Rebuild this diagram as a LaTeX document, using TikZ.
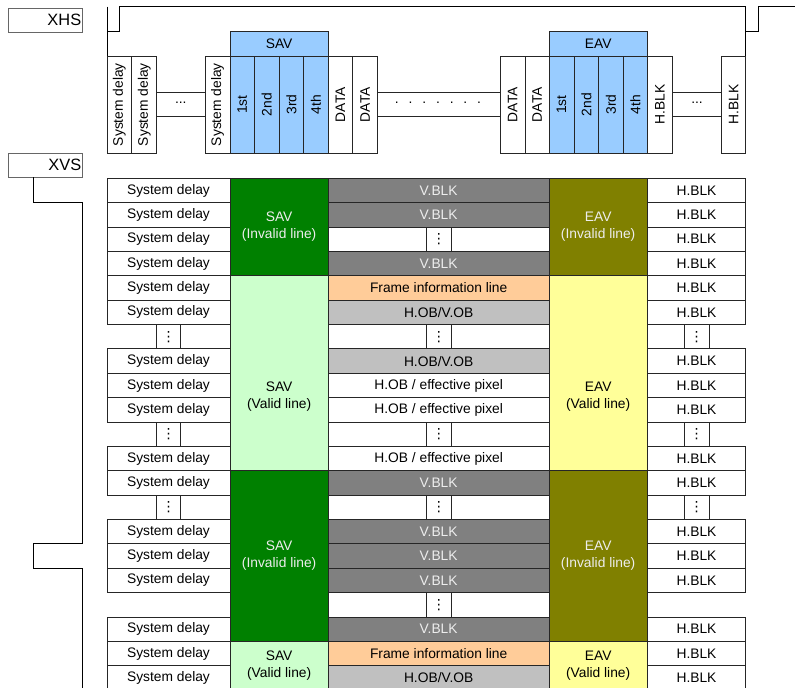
\documentclass[tikz,border=0pt]{standalone}
\usepackage{graphicx}
\usepackage{fontspec}
\setmainfont{Liberation Sans}
\newfontfamily\djv{DejaVu Sans}
\definecolor{savinv}{HTML}{008000}
\definecolor{savval}{HTML}{CCFFCC}
\definecolor{eavinv}{HTML}{808000}
\definecolor{eavval}{HTML}{FFFF99}
\definecolor{vblk}{HTML}{808080}
\definecolor{frameinfo}{HTML}{FFCC99}
\definecolor{hob}{HTML}{C0C0C0}
\definecolor{hdrblue}{HTML}{99CCFF}
\newcommand\cellat[7]{%
  \node[cellbase,#6,minimum width={((#4)-(#2))*0.75pt},minimum height={((#5)-(#3))*0.75pt}] (#1) at ({((#2)+(#4))/2},{((#3)+(#5))/2}) {#7};}
\newcommand\rowcell[7]{\cellat{#1}{#2}{178.3+24.37*(#3)}{#4}{178.3+24.37*(#5)}{#6}{#7}}
\newcommand\hobtxt{H.OB/V.OB}
\newcommand\efftxt{H.OB / effective pixel}
\newcommand\fintxt{Frame information line}
\newcommand\vdts{{\djv\fontsize{10.5}{10.5}\selectfont ⋮}}
\newcommand\spdots{.\hspace{7.4pt}.\hspace{7.4pt}.\hspace{7.4pt}.\hspace{7.4pt}.\hspace{7.4pt}.\hspace{7.4pt}.}
\newcommand\vtxt[1]{\rotatebox{90}{#1}}
\tikzset{
  cellbase/.style={draw=black!85, line width=0.7pt, inner sep=0pt, outer sep=0pt, fill=white,
    font=\fontsize{10.35}{12.7}\selectfont, align=center},
  whitecell/.style={fill=white},
  vblkcell/.style={fill=vblk, text=white!93!black},
  hobcell/.style={fill=hob},
  fincell/.style={fill=frameinfo},
  savinvcell/.style={fill=savinv, text=white!93!black},
  savvalcell/.style={fill=savval},
  eavinvcell/.style={fill=eavinv, text=white!93!black},
  eavvalcell/.style={fill=eavval},
  bluecell/.style={fill=hdrblue},
  bandcell/.style={fill=white},
  txt/.style={inner sep=0pt, font=\fontsize{10.35}{12.7}\selectfont, align=center},
  sigbox/.style={draw=black!60, line width=0.7pt, inner xsep=0.6pt, inner ysep=0pt,
    minimum width=55.5pt, minimum height=18pt, text width=54.3pt, align=right,
    font=\fontsize{12.3}{14}\selectfont},
  wave/.style={draw=black, line width=0.75pt}
}
\begin{document}
\begin{tikzpicture}[x=0.75pt,y=-0.75pt]
\useasboundingbox (0,0) rectangle (795,688);

% signal labels
\node[sigbox] (xhs) at (45,20) {XHS};
\node[sigbox] (xvs) at (45,165) {XVS};

% XHS waveform
\draw[wave] (107,6.7) -- (107,103.3);
\draw[wave] (107,31.7) -- (119,31.7) -- (119,6.7) -- (745.7,6.7) -- (745.7,31.7) -- (758.3,31.7) -- (758.3,6.7) -- (795,6.7);
\draw[wave] (745.7,6.7) -- (745.7,103.3);

% XVS waveform
\draw[wave] (33,177) -- (33,202.67) -- (82,202.67) -- (82,543.85) -- (33,543.85) -- (33,568.2) -- (82,568.2) -- (82,692);

% ---- top header ----
\cellat{bandA}{156.7}{92.7}{205}{116.7}{bandcell}{}
\cellat{bandB}{377.7}{92.7}{500}{116.7}{bandcell}{}
\cellat{bandC}{672.3}{92.7}{721.7}{116.7}{bandcell}{}
\node[txt] (dotsA) at (180.8,103.2) {...};
\node[txt] (dotsB) at (438,103.2) {\spdots};
\node[txt] (dotsC) at (697,103.2) {...};

\cellat{savhdr}{230}{31.7}{328.3}{56}{bluecell}{SAV}
\cellat{eavhdr}{549}{31.7}{647.3}{56}{bluecell}{EAV}

\cellat{tv1}{107}{56}{131.7}{153.3}{whitecell}{\vtxt{System delay}}
\cellat{tv2}{131.7}{56}{156.7}{153.3}{whitecell}{\vtxt{System delay}}
\cellat{tv3}{205}{56}{230}{153.3}{whitecell}{\vtxt{System delay}}
\cellat{ts1}{230}{56}{254.3}{153.3}{bluecell}{\vtxt{1st}}
\cellat{ts2}{254.3}{56}{279}{153.3}{bluecell}{\vtxt{2nd}}
\cellat{ts3}{279}{56}{303.7}{153.3}{bluecell}{\vtxt{3rd}}
\cellat{ts4}{303.7}{56}{328.3}{153.3}{bluecell}{\vtxt{4th}}
\cellat{td1}{328.3}{56}{352.3}{153.3}{whitecell}{\vtxt{DATA}}
\cellat{td2}{352.3}{56}{377.7}{153.3}{whitecell}{\vtxt{DATA}}
\cellat{td3}{500}{56}{525}{153.3}{whitecell}{\vtxt{DATA}}
\cellat{td4}{525}{56}{549}{153.3}{whitecell}{\vtxt{DATA}}
\cellat{te1}{549}{56}{574}{153.3}{bluecell}{\vtxt{1st}}
\cellat{te2}{574}{56}{598.7}{153.3}{bluecell}{\vtxt{2nd}}
\cellat{te3}{598.7}{56}{623.3}{153.3}{bluecell}{\vtxt{3rd}}
\cellat{te4}{623.3}{56}{647.3}{153.3}{bluecell}{\vtxt{4th}}
\cellat{th1}{647.3}{56}{672.3}{153.3}{whitecell}{\vtxt{H.BLK}}
\cellat{th2}{721.7}{56}{745.7}{153.3}{whitecell}{\vtxt{H.BLK}}

% ---- table ----
\foreach \r in {0,1,2,3,4,5,7,8,9,11,12,14,15,16,18,19,20} {
  \rowcell{sd\r}{107}{\r}{230}{\r+1}{whitecell}{System delay}
  \rowcell{hb\r}{647.3}{\r}{745.7}{\r+1}{whitecell}{H.BLK}
}
\foreach \r in {6,10,13} {
  \rowcell{ld\r}{156.7}{\r}{180.7}{\r+1}{whitecell}{\vdts}
  \rowcell{rd\r}{684.3}{\r}{709}{\r+1}{whitecell}{\vdts}
}
\foreach \r/\s/\t in {0/vblkcell/V.BLK, 1/vblkcell/V.BLK, 3/vblkcell/V.BLK,
   4/fincell/\fintxt, 5/hobcell/\hobtxt, 7/hobcell/\hobtxt,
   8/whitecell/\efftxt, 9/whitecell/\efftxt, 11/whitecell/\efftxt,
   12/vblkcell/V.BLK, 14/vblkcell/V.BLK, 15/vblkcell/V.BLK, 16/vblkcell/V.BLK,
   18/vblkcell/V.BLK, 19/fincell/\fintxt, 20/hobcell/\hobtxt} {
  \rowcell{mc\r}{328.3}{\r}{549}{\r+1}{\s}{\t}
}
\foreach \r in {2,6,10,13,17} {
  \rowcell{mr\r}{328.3}{\r}{549}{\r+1}{whitecell}{}
  \rowcell{md\r}{426.7}{\r}{451}{\r+1}{whitecell}{\vdts}
}

\rowcell{savA}{230}{0}{328.3}{4}{savinvcell}{SAV\\(Invalid line)}
\rowcell{savB}{230}{4}{328.3}{12}{savvalcell}{}
\rowcell{savC}{230}{12}{328.3}{19}{savinvcell}{SAV\\(Invalid line)}
\rowcell{savD}{230}{19}{328.3}{21}{savvalcell}{SAV\\(Valid line)}
\node[txt] (savBt) at (279.15,397) {SAV\\(Valid line)};

\rowcell{eavA}{549}{0}{647.3}{4}{eavinvcell}{EAV\\(Invalid line)}
\rowcell{eavB}{549}{4}{647.3}{12}{eavvalcell}{}
\rowcell{eavC}{549}{12}{647.3}{19}{eavinvcell}{EAV\\(Invalid line)}
\rowcell{eavD}{549}{19}{647.3}{21}{eavvalcell}{EAV\\(Valid line)}
\node[txt] (eavBt) at (598.15,397) {EAV\\(Valid line)};
\end{tikzpicture}
\end{document}
